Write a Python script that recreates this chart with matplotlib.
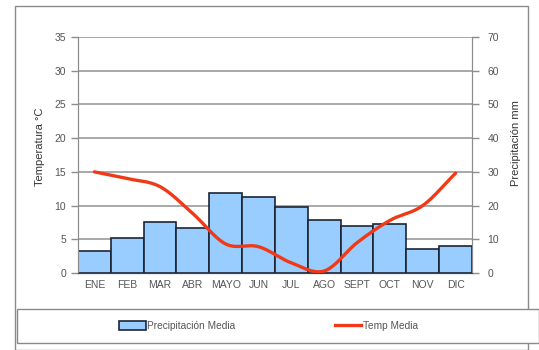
# Climograma: precipitación media (barras) y temperatura media (línea)
import numpy as np
import matplotlib.pyplot as plt
from matplotlib.patches import Rectangle
from matplotlib.lines import Line2D

plt.rcParams['font.family'] = ['Liberation Sans', 'DejaVu Sans']

meses = ['ENE', 'FEB', 'MAR', 'ABR', 'MAYO', 'JUN', 'JUL', 'AGO', 'SEPT', 'OCT', 'NOV', 'DIC']
precipitacion = [6.6, 10.4, 15.0, 13.4, 23.6, 22.6, 19.6, 15.8, 14.0, 14.4, 7.0, 8.0]
temperatura = [15.0, 14.0, 12.8, 8.8, 4.3, 3.9, 1.5, 0.3, 4.5, 7.8, 10.0, 14.8]


def suavizar(x, y, n=20):
    # curva Catmull-Rom que pasa por todos los puntos
    x = np.asarray(x, float)
    y = np.asarray(y, float)
    px = np.concatenate([[2 * x[0] - x[1]], x, [2 * x[-1] - x[-2]]])
    py = np.concatenate([[2 * y[0] - y[1]], y, [2 * y[-1] - y[-2]]])
    xs, ys = [], []
    t = np.linspace(0, 1, n, endpoint=False)
    for i in range(1, len(px) - 2):
        for p, out in ((px, xs), (py, ys)):
            p0, p1, p2, p3 = p[i - 1], p[i], p[i + 1], p[i + 2]
            out.extend(0.5 * ((2 * p1) + (-p0 + p2) * t
                              + (2 * p0 - 5 * p1 + 4 * p2 - p3) * t ** 2
                              + (-p0 + 3 * p1 - 3 * p2 + p3) * t ** 3))
    xs.append(x[-1])
    ys.append(y[-1])
    return np.array(xs), np.array(ys)


fig = plt.figure(figsize=(5.39, 3.5), dpi=100)
W, H = 539, 350

# marco exterior del gráfico y caja de la leyenda
fig.patches.append(Rectangle((15 / W, 0), (528 - 15) / W, (H - 6) / H,
                             transform=fig.transFigure, fill=False,
                             edgecolor='#8a8a8a', linewidth=1.0))
fig.patches.append(Rectangle((17 / W, (H - 343) / H), (539 - 17) / W, 34 / H,
                             transform=fig.transFigure, facecolor='white',
                             edgecolor='#8a8a8a', linewidth=1.0))

ax = fig.add_axes([78 / W, (H - 273) / H, 394 / W, 236 / H])
ax2 = ax.twinx()

x = np.arange(len(meses))
gris = '#8c8c8c'
texto = '#555555'

# barras de precipitación en el eje derecho
ax2.bar(x, precipitacion, width=1.0, color='#99CCFF', edgecolor='#1c2433', linewidth=1.2, zorder=3)
ax2.set_ylim(0, 70)
ax2.set_yticks(range(0, 71, 10))
ax2.grid(axis='y', color='#999999', linewidth=1.2, zorder=0)
ax2.set_axisbelow(True)
ax2.set_ylabel('Precipitación mm', fontsize=8, color='#333333')

# temperatura en el eje izquierdo
ax.set_zorder(ax2.get_zorder() + 1)
ax.patch.set_visible(False)
xs, ys = suavizar(x, temperatura)
ax.plot(xs, ys, color='#F03A17', linewidth=2.4, solid_capstyle='round')
ax.set_ylim(0, 35)
ax.set_yticks(range(0, 36, 5))
ax.set_xlim(-0.5, 11.5)
ax.set_xticks(x)
ax.set_xticklabels(meses)
ax.set_ylabel('Temperatura °C', fontsize=8, color='#333333')
ax.yaxis.set_label_coords(-0.083, 0.534)
ax2.yaxis.set_label_coords(1.099, 0.55)

for a in (ax, ax2):
    a.tick_params(axis='y', labelsize=7.5, labelcolor=texto, color=gris, length=5, width=1)
    a.tick_params(axis='x', labelsize=7.5, labelcolor=texto, length=0, pad=5)
    a.spines['top'].set_visible(False)
    a.spines['left'].set_color(gris)
    a.spines['right'].set_color(gris)
    a.spines['bottom'].set_color('#444444')
ax2.tick_params(axis='y', pad=6)

# leyenda inferior
handles = [Rectangle((0, 0), 1, 1, facecolor='#99CCFF', edgecolor='#1c2433', linewidth=1.2),
           Line2D([], [], color='#F03A17', linewidth=2.4)]
fig.legend(handles, ['Precipitación Media', 'Temp Media'], loc='center',
           bbox_to_anchor=(268.5 / W, (H - 326) / H), ncol=2, frameon=False,
           fontsize=7.3, handlelength=2.6, handleheight=0.9, handletextpad=0.15,
           columnspacing=9.8, labelcolor=texto)

fig.savefig('out.png', dpi=100)
